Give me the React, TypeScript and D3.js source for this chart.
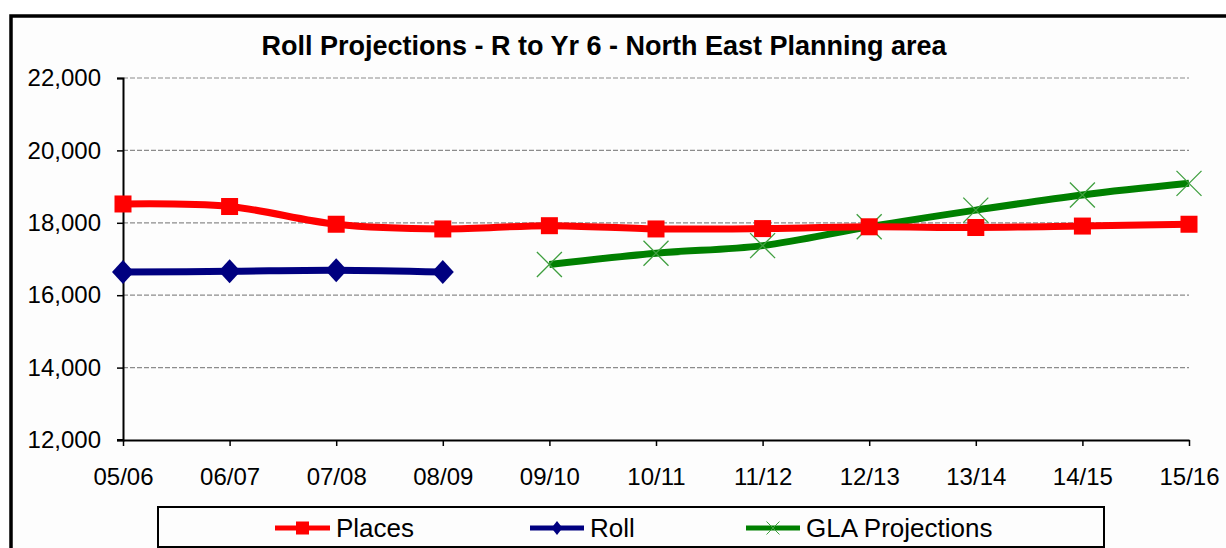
import { useEffect, useRef } from 'react';
import * as d3 from 'd3';

// chart data
const categories = ['05/06', '06/07', '07/08', '08/09', '09/10', '10/11', '11/12', '12/13', '13/14', '14/15', '15/16'];
const places = [18520, 18450, 17960, 17830, 17920, 17830, 17840, 17890, 17870, 17910, 17960];
const roll = [16640, 16660, 16690, 16640, null, null, null, null, null, null, null];
const gla = [null, null, null, null, 16850, 17160, 17370, 17890, 18350, 18770, 19090];
const yTicks = [12000, 14000, 16000, 18000, 20000, 22000];
const title = 'Roll Projections - R to Yr 6 - North East Planning area';
const legendNames = ['Places', 'Roll', 'GLA Projections'];

const FONT = '"Liberation Sans", Arial, sans-serif';

const App = () => {
  const svgRef = useRef(null);

  useEffect(() => {
    document.body.style.margin = '0';
    const svg = d3.select(svgRef.current);
    svg.selectAll('*').remove();

    const W = 1226;
    const H = 548;
    svg.attr('width', W).attr('height', H).style('display', 'block');

    svg.append('rect').attr('width', W).attr('height', H).attr('fill', '#ffffff');

    // outer chart frame (runs off right and bottom)
    svg.append('rect')
      .attr('x', 11).attr('y', 16)
      .attr('width', 1260).attr('height', 600)
      .attr('fill', '#fdfdfd')
      .attr('stroke', '#000').attr('stroke-width', 3.5);

    const x = d3.scalePoint().domain(categories).range([123, 1189]);
    const y = d3.scaleLinear().domain([12000, 22000]).range([440, 78]);

    // title
    svg.append('text')
      .attr('x', 604).attr('y', 55)
      .attr('text-anchor', 'middle')
      .style('font-family', FONT).style('font-weight', 'bold').style('font-size', '27px')
      .text(title);

    // grid
    svg.append('g').selectAll('line')
      .data(yTicks.filter(d => d > 12000))
      .enter().append('line')
      .attr('x1', x(categories[0])).attr('x2', x(categories[categories.length - 1]))
      .attr('y1', d => y(d)).attr('y2', d => y(d))
      .attr('stroke', '#8c8c8c').attr('stroke-width', 1.2)
      .attr('stroke-dasharray', '5,2');

    // y axis
    const yAxis = d3.axisLeft(y).tickValues(yTicks).tickSize(6).tickPadding(16)
      .tickFormat(d3.format(','));
    const gy = svg.append('g').attr('transform', `translate(${x(categories[0])},0)`).call(yAxis);
    gy.select('.domain').attr('stroke', '#000').attr('stroke-width', 2);
    gy.selectAll('.tick line').attr('stroke', '#000').attr('stroke-width', 1.5);
    gy.selectAll('text')
      .style('font-family', FONT).style('font-size', '24px').attr('fill', '#000');

    // x axis
    const xAxis = d3.axisBottom(x).tickSize(6).tickSizeOuter(0).tickPadding(22);
    const gx = svg.append('g').attr('transform', `translate(0,${y(12000)})`).call(xAxis);
    gx.select('.domain').attr('stroke', '#000').attr('stroke-width', 2);
    gx.selectAll('.tick line').attr('stroke', '#000').attr('stroke-width', 1.5);
    gx.selectAll('text')
      .style('font-family', FONT).style('font-size', '24px').attr('fill', '#000');
    gx.append('line')
      .attr('x1', x(categories[0]) - 6).attr('x2', x(categories[0]))
      .attr('stroke', '#000').attr('stroke-width', 2);

    const line = d3.line()
      .defined(d => d.v != null)
      .x(d => x(d.c))
      .y(d => y(d.v))
      .curve(d3.curveCatmullRom);

    const toPts = arr => categories.map((c, i) => ({ c, v: arr[i] }));
    const placesPts = toPts(places);
    const rollPts = toPts(roll).filter(d => d.v != null);
    const glaPts = toPts(gla).filter(d => d.v != null);

    const diamond = (w, h) => `M0,${-h / 2}L${w / 2},0L0,${h / 2}L${-w / 2},0Z`;
    const cross = s => `M${-s / 2},${-s / 2}L${s / 2},${s / 2}M${s / 2},${-s / 2}L${-s / 2},${s / 2}`;

    // GLA projections
    svg.append('path').datum(glaPts)
      .attr('fill', 'none').attr('stroke', '#008000').attr('stroke-width', 7)
      .attr('d', line);
    svg.append('g').selectAll('path').data(glaPts).enter().append('path')
      .attr('transform', d => `translate(${x(d.c)},${y(d.v)})`)
      .attr('d', cross(25))
      .attr('fill', 'none').attr('stroke', '#3f9f3f').attr('stroke-width', 1.3);

    // Places
    svg.append('path').datum(placesPts)
      .attr('fill', 'none').attr('stroke', '#ff0000').attr('stroke-width', 7)
      .attr('d', line);
    svg.append('g').selectAll('rect').data(placesPts).enter().append('rect')
      .attr('x', d => x(d.c) - 8.5).attr('y', d => y(d.v) - 8.5)
      .attr('width', 17).attr('height', 17)
      .attr('fill', '#ff0000');

    // Roll
    svg.append('path').datum(rollPts)
      .attr('fill', 'none').attr('stroke', '#000080').attr('stroke-width', 7)
      .attr('d', line);
    svg.append('g').selectAll('path').data(rollPts).enter().append('path')
      .attr('transform', d => `translate(${x(d.c)},${y(d.v)})`)
      .attr('d', diamond(22, 24))
      .attr('fill', '#000080');

    // legend
    svg.append('rect')
      .attr('x', 158).attr('y', 507).attr('width', 946).attr('height', 40)
      .attr('fill', '#fdfdfd').attr('stroke', '#000').attr('stroke-width', 2);

    const legendItems = [
      { name: legendNames[0], color: '#ff0000', x0: 275, x1: 330 },
      { name: legendNames[1], color: '#000080', x0: 530, x1: 584 },
      { name: legendNames[2], color: '#008000', x0: 746, x1: 800 },
    ];
    const lg = svg.append('g').selectAll('g').data(legendItems).enter().append('g');
    lg.append('line')
      .attr('x1', d => d.x0).attr('x2', d => d.x1)
      .attr('y1', 528).attr('y2', 528)
      .attr('stroke', d => d.color).attr('stroke-width', 5);
    lg.append('text')
      .attr('x', d => d.x1 + 6).attr('y', 537)
      .style('font-family', FONT).style('font-size', '26px')
      .text(d => d.name);

    const mid = d => (d.x0 + d.x1) / 2;
    svg.append('rect')
      .attr('x', mid(legendItems[0]) - 6.5).attr('y', 528 - 6.5)
      .attr('width', 13).attr('height', 13).attr('fill', '#ff0000');
    svg.append('path')
      .attr('transform', `translate(${mid(legendItems[1])},528)`)
      .attr('d', diamond(11, 14)).attr('fill', '#000080');
    svg.append('path')
      .attr('transform', `translate(${mid(legendItems[2])},528)`)
      .attr('d', cross(13))
      .attr('fill', 'none').attr('stroke', '#3f9f3f').attr('stroke-width', 1);
  }, []);

  return <svg ref={svgRef}></svg>;
};

export default App;
